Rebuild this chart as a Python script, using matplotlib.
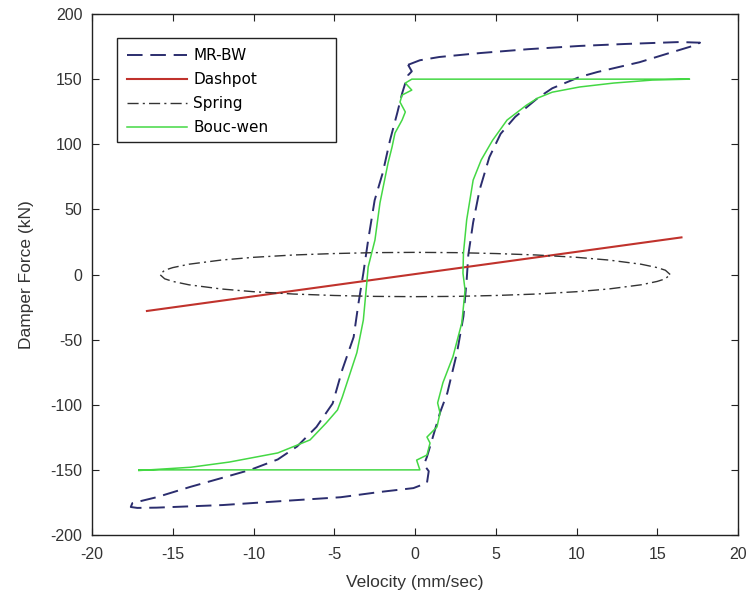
import matplotlib
matplotlib.use('Agg')
import matplotlib.pyplot as plt
from matplotlib.patches import Rectangle

plt.rcParams['font.family'] = ['Liberation Sans', 'DejaVu Sans']
plt.rcParams['axes.unicode_minus'] = False

# MR-BW model (dashed loop)
mrbw_v = [-0.43, 0.3, 1.5, 4.0, 7.0, 10.2, 13.0, 16.4, 17.65,
          17.2, 16.0, 13.9, 11.3, 10.2, 8.5, 7.6, 6.2, 5.3, 4.6, 4.0, 3.6, 3.3,
          3.2, 3.0, 2.6, 2.0, 1.55, 1.1, 0.74, 0.55, 0.85, 0.74, -0.1,
          -2.2, -4.6, -7.7, -11.9, -16.0, -17.2, -17.6,
          -17.5, -16.0, -13.9, -11.9, -10.2, -8.5, -7.3, -6.1, -5.1, -4.5,
          -3.8, -3.5, -3.2, -2.9, -2.5, -2.0, -1.55, -1.1, -0.8, -0.6, -0.43,
          -0.2, -0.43]
mrbw_f = [161, 164.5, 167, 170, 173, 175.5, 177, 178.5, 178,
          175.5, 171, 163, 155.5, 151.7, 143, 135.5, 121, 108, 90, 65, 40, 15,
          -4, -32, -60, -91, -106, -125, -140, -146, -151, -160, -164,
          -167, -171, -173.5, -177, -179, -179.2, -178.5,
          -175.5, -171, -163, -156, -150, -142, -132, -117, -99, -73,
          -48, -22, 1, 26.5, 57, 78, 103, 124, 139, 147, 153,
          156, 161]

# Dashpot
dash_v = [-16.6, 16.5]
dash_f = [-28.0, 28.5]

# Spring
spring_v = [15.8, 15.5, 15.0, 14.0, 12.0, 10.0, 7.5, 5.0, 2.5, 0, -2.5, -5.0,
            -7.5, -10.0, -12.0, -14.0, -15.0, -15.5, -15.8, -15.5, -15.0, -14.0,
            -12.0, -10.0, -7.5, -5.0, -2.5, 0, 2.5, 5.0, 7.5, 10.0, 12.0, 14.0,
            15.0, 15.5, 15.8]
spring_f = [0, 3.3, 5.3, 7.9, 11.1, 13.2, 15.0, 16.1, 16.8, 17.0, 16.8, 16.1,
            15.0, 13.2, 11.1, 7.9, 5.3, 3.3, 0, -3.3, -5.3, -7.9, -11.1, -13.2,
            -15.0, -16.1, -16.8, -17.0, -16.8, -16.1, -15.0, -13.2, -11.1, -7.9,
            -5.3, -3.3, 0]

# Bouc-wen
bw_v = [-17.1, 0.3, 0.1, 0.74, 0.93, 0.74, 1.36, 1.55, 1.4, 1.73, 2.35, 2.9,
        3.1, 2.97, 3.0, 3.2, 3.6, 4.1, 4.8, 5.7, 6.9, 7.6, 8.5, 10.2, 12.3,
        14.7, 17.0, -0.2, -0.6, -0.2, -0.8, -0.93, -0.6, -0.8, -1.24, -1.42,
        -1.67, -2.17, -2.48, -2.9, -2.97, -3.2, -3.6, -4.5, -4.8, -5.5, -6.5,
        -8.5, -11.5, -13.9, -17.1]
bw_f = [-150, -150, -142.5, -138.6, -129.4, -124.8, -117, -106.3, -98.6, -83,
        -63, -37, -12, 1, 16.5, 42, 72.5, 88, 103, 118.6, 130, 135.5, 140, 144,
        147, 149.3, 150, 150, 147, 141.6, 137.8, 132.4, 124.8, 118.6, 108.6, 98,
        85.6, 55, 26.5, 5.8, -4.2, -35, -60, -94, -104, -114, -127, -137, -144,
        -148, -150.5]

fig = plt.figure(figsize=(7.5, 6.02), dpi=100)
ax = fig.add_axes([0.1227, 0.1113, 0.8613, 0.8654])

ax.plot(mrbw_v, mrbw_f, color='#2b2d6e', lw=1.4, dashes=(8, 4), label='MR-BW')
ax.plot(dash_v, dash_f, color='#c0322c', lw=1.5, label='Dashpot')
ax.plot(spring_v, spring_f, color='#333333', lw=1.0, linestyle=(0, (8, 3, 1.5, 3)), label='Spring')
ax.plot(bw_v, bw_f, color='#44d844', lw=1.1, label='Bouc-wen')

ax.set_xlim(-20, 20)
ax.set_ylim(-200, 200)
ax.set_xticks(range(-20, 21, 5))
ax.set_yticks(range(-200, 201, 50))
ax.tick_params(direction='in', top=True, right=True, length=5, labelsize=11.5,
               colors='#222222', labelcolor='#333333')
ax.tick_params(axis='x', pad=9)
ax.tick_params(axis='y', pad=7)
for s in ax.spines.values():
    s.set_color('#222222')
    s.set_linewidth(1.0)

ax.set_xlabel('Velocity (mm/sec)', fontsize=12.5, color='#333333', labelpad=9)
ax.set_ylabel('Damper Force (kN)', fontsize=12.5, color='#333333', labelpad=12)

# legend frame drawn separately (MATLAB leaves extra space on the right)
ax.add_patch(Rectangle((0.0387, 0.7543), 0.339, 0.1997, transform=ax.transAxes,
                       facecolor='white', edgecolor='#222222', lw=1.0, zorder=5))
leg = ax.legend(loc='upper left', bbox_to_anchor=(0.0387, 0.954), borderaxespad=0,
                frameon=False, handlelength=3.9, handletextpad=0.4,
                labelspacing=0.58, borderpad=0.68, prop={'family': 'DejaVu Sans', 'size': 11})
leg.set_zorder(6)

fig.savefig('out.png', dpi=100)
